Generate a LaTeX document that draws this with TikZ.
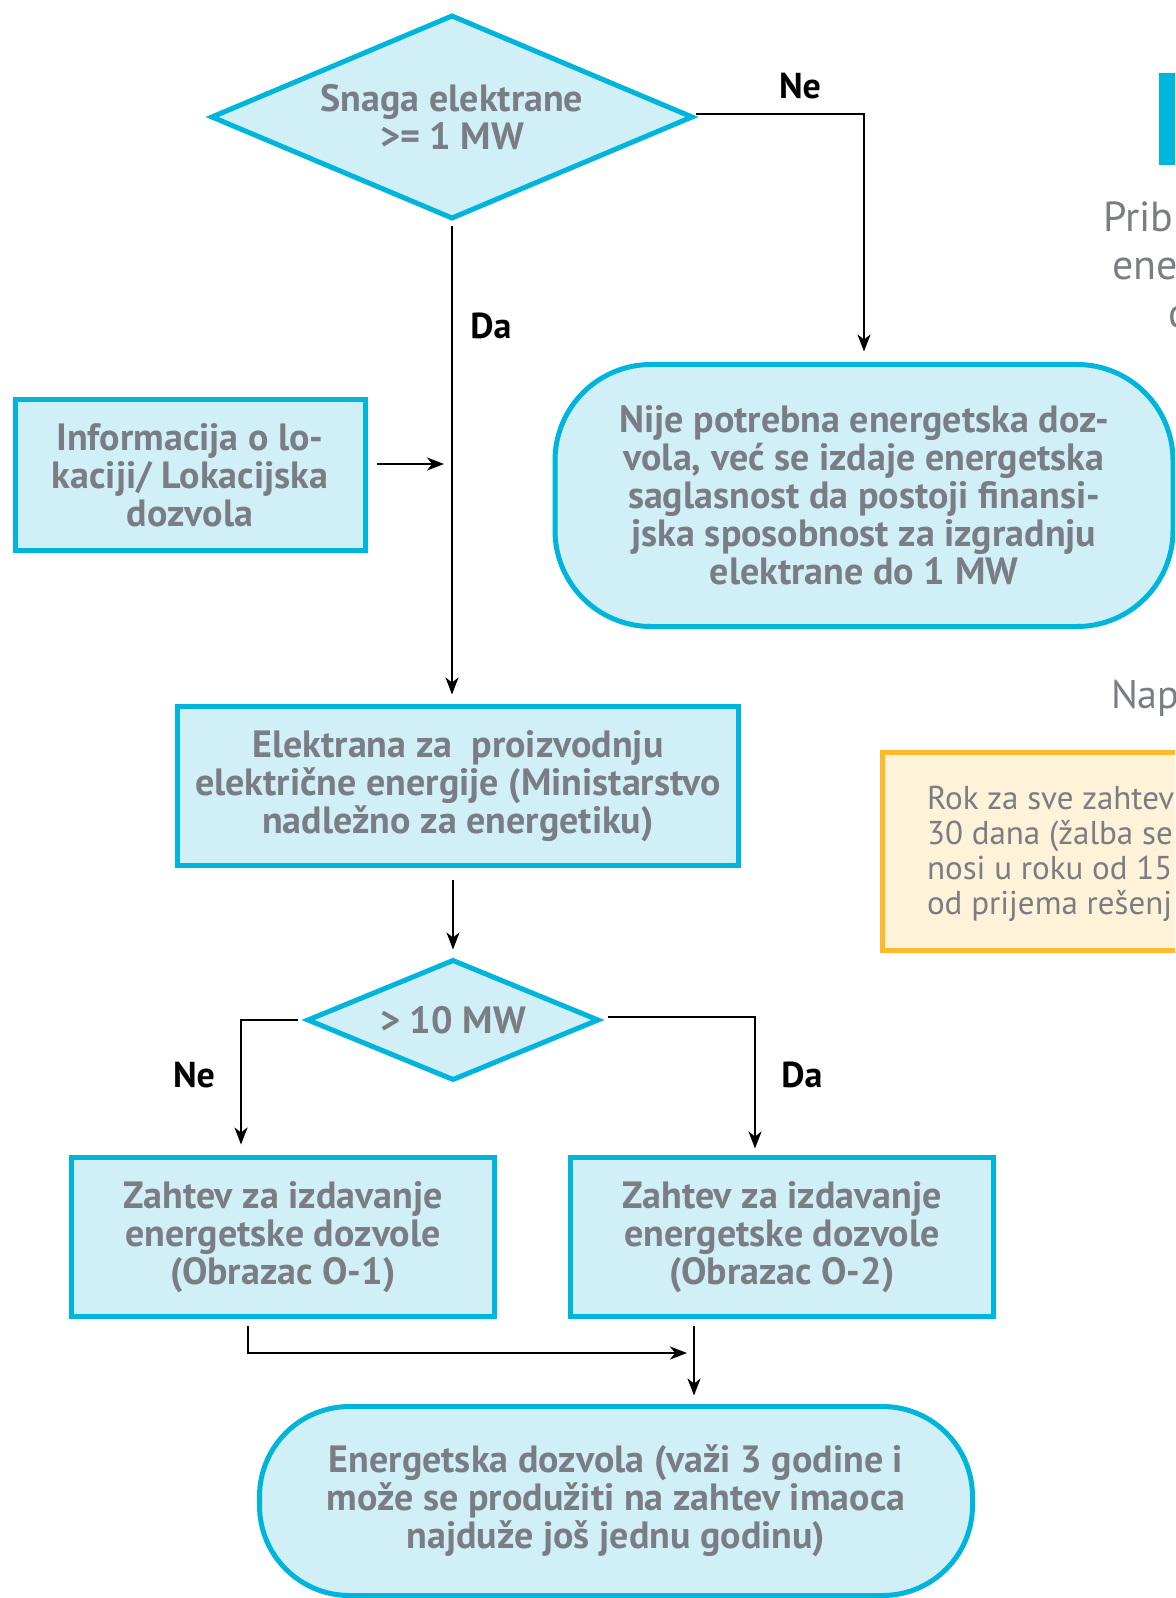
\documentclass[tikz,border=0pt]{standalone}
\usepackage{fontspec}
\setmainfont{PT Sans}
\usetikzlibrary{shapes.geometric,arrows.meta,calc}
\definecolor{boxfill}{HTML}{D0EFF7}
\definecolor{boxline}{HTML}{00B5DC}
\definecolor{txtgrey}{HTML}{7A7D83}
\definecolor{notefill}{HTML}{FEF2D8}
\definecolor{noteline}{HTML}{FDBA2C}

\begin{document}
\begin{tikzpicture}[x=0.5pt,y=-0.5pt,
  every node/.style={inner sep=0pt, outer sep=0pt},
  lbl/.style={font=\fontsize{19}{19}\selectfont\bfseries, text=txtgrey, align=center},
  stepbox/.style={lbl, draw=boxline, fill=boxfill, line width=2.5pt, rectangle},
  decision/.style={lbl, draw=boxline, fill=boxfill, line width=2.5pt, diamond},
  terminal/.style={stepbox, rounded corners=48pt},
  arr/.style={-{Stealth[length=8.5pt,width=6.5pt,inset=2.5pt]}, line width=1.1pt, black},
  yn/.style={font=\fontsize{18}{18}\selectfont\bfseries, text=black},
  sidetxt/.style={text=txtgrey, anchor=base west},
]
\useasboundingbox (0,0) rectangle (1175,1598);
\clip (0,0) rectangle (1175,1598);

% decision and process boxes
\node[decision, shape aspect=2.38, minimum width=240pt, minimum height=101pt] (d1) at (452,117) {Snaga elektrane\\>= 1 MW};
\node[stepbox, minimum width=175pt, minimum height=75.5pt] (info) at (190,475) {Informacija o lo-\\kaciji/ Lokacijska\\dozvola};
\node[terminal, minimum width=309pt, minimum height=131pt] (nije) at (864,495.5) {Nije potrebna energetska doz-\\vola, već se izdaje energetska\\saglasnost da postoji finansi-\\jska sposobnost za izgradnju\\elektrane do 1 MW};
\node[stepbox, minimum width=280.5pt, minimum height=79.5pt] (main) at (458,786) {Elektrana za\ \ proizvodnju\\električne energije (Ministarstvo\\nadležno za energetiku)};
\node[decision, shape aspect=2.44, minimum width=145pt, minimum height=59.5pt] (d2) at (453,1020) {> 10 MW};
\node[stepbox, minimum width=211.5pt, minimum height=79.5pt] (z1) at (283,1237) {Zahtev za izdavanje\\energetske dozvole\\(Obrazac O-1)};
\node[stepbox, minimum width=211.5pt, minimum height=79.5pt] (z2) at (782,1237) {Zahtev za izdavanje\\energetske dozvole\\(Obrazac O-2)};
\node[terminal, rounded corners=45pt, minimum width=356.5pt, minimum height=94.5pt] (energ) at (616,1501) {Energetska dozvola (važi 3 godine i\\može se produžiti na zahtev imaoca\\najduže još jednu godinu)};

% connectors
\draw[arr] ($(d1.east)+(4,-3)$) -| ($(nije.north)+(0,-13)$);
\node[yn] (ne1) at (800,86) {Ne};
\draw[arr] ($(d1.south)+(0,8)$) -- ($(d1.south |- main.north)+(0,-12)$);
\node[yn] (da1) at (491,326) {Da};
\draw[arr] ($(info.east)+(12,-11)$) -- ($(info.east -| d1.south)+(-8,-11)$);
\draw[arr] ($(main.south -| d2.north)+(0,14)$) -- ($(d2.north)+(0,-11)$);
\draw[arr] ($(d2.west)+(-10,0)$) -| ($(z1.north)+(-42,-13)$);
\node[yn] (ne2) at (194,1075) {Ne};
\draw[arr] ($(d2.east)+(10,-3)$) -| ($(z2.north)+(-27,-9)$);
\node[yn] (da2) at (802,1075) {Da};
\coordinate (jn) at (687,1353);
\draw[arr] ($(z1.south)+(-35,9)$) |- (jn);
\draw[arr] ($(z2.south)+(-88,9)$) -- ($(z2.south |- energ.north)+(-88,-11)$);

% note box on the right
\node[draw=noteline, fill=notefill, line width=2.5pt, rectangle, anchor=north west, minimum width=200pt, minimum height=99pt] (note) at (882.5,752.5) {};
\node[anchor=north west, align=left, font=\fontsize{16.5}{17.6}\selectfont, text=txtgrey] (notetxt) at (927,786) {Rok za sve zahtev\\30 dana (žalba se\\nosi u roku od 15\\od prijema rešenj};

% heading fragments at the right edge
\fill[boxline] (1159,73) rectangle (1180,165);
\node[sidetxt, font=\fontsize{21}{24}\selectfont] (h1) at (1103,232) {Prib};
\node[sidetxt, font=\fontsize{21}{24}\selectfont] (h2) at (1112,280) {ene};
\node[sidetxt, font=\fontsize{21}{24}\selectfont] (h3) at (1168,328) {d};
\node[sidetxt, font=\fontsize{20}{24}\selectfont] (nap) at (1111,708) {Nap};
\end{tikzpicture}
\end{document}
